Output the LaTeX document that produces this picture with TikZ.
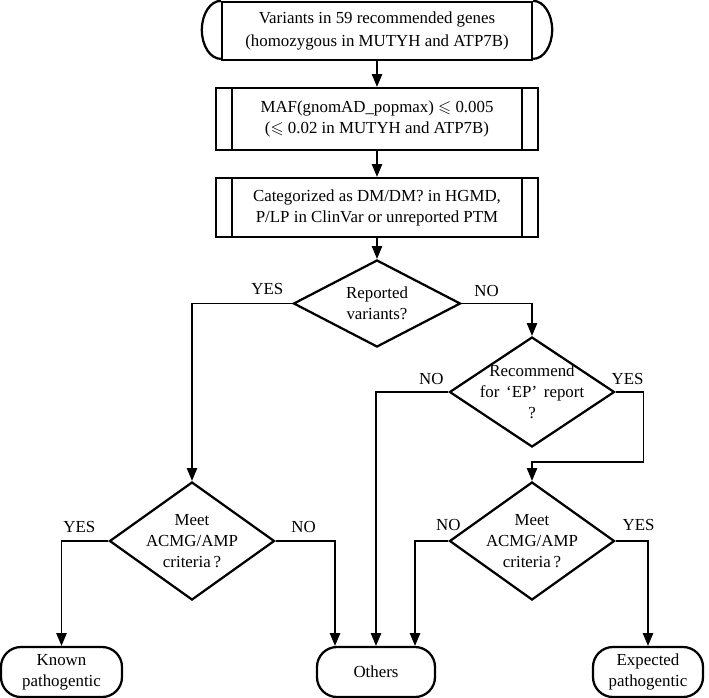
\documentclass[tikz,border=0pt]{standalone}
\usepackage{amsmath,amssymb}
\usepackage{fontspec}
\setmainfont{Liberation Serif}
\usetikzlibrary{arrows.meta}
\usetikzlibrary{calc}
\usetikzlibrary{shapes.geometric}

\begin{document}
\begin{tikzpicture}[x=0.025cm,y=-0.025cm,line width=0.9pt,
    font=\fontsize{12}{15}\selectfont,
    >={Triangle[length=0.32cm,width=0.26cm]},
    box/.style={draw,line width=1.6pt,inner sep=0pt,align=center},
    dec/.style={draw,diamond,line width=1.6pt,inner sep=0pt},
    term/.style={draw,line width=1.6pt,rounded corners=0.5cm,minimum height=1.25cm,align=center,inner sep=0pt},
    txt/.style={align=center,inner sep=0pt},
    lbl/.style={inner sep=0pt}]
      \useasboundingbox (0,0) rectangle (709,697);

      \node[box,minimum width=7.75cm,minimum height=1.45cm,font=\fontsize{12}{17}\selectfont] (start) at (377,31) {Variants in 59 recommended genes\\(homozygous in MUTYH and ATP7B)};
      \draw[line width=1.6pt] (start.north west) arc[start angle=90,end angle=270,x radius=0.475cm,y radius=0.725cm];
      \draw[line width=1.6pt] (start.north east) arc[start angle=90,end angle=-90,x radius=0.475cm,y radius=0.725cm];

      \node[box,minimum width=8.05cm,minimum height=1.55cm,font=\fontsize{12}{15.5}\selectfont] (maf) at (377,119) {MAF(gnomAD\_popmax) $\leqslant$ 0.005\\($\leqslant$ 0.02 in MUTYH and ATP7B)};
      \node[box,minimum width=8.05cm,minimum height=1.475cm] (cat) at (377,207.5) {Categorized as DM/DM? in HGMD,\\P/LP in ClinVar or unreported PTM};
      \foreach \n in {maf,cat}{
        \draw[line width=1.6pt] ($(\n.north west)+(17,0)$) -- ($(\n.south west)+(17,0)$);
        \draw[line width=1.6pt] ($(\n.north east)+(-17,0)$) -- ($(\n.south east)+(-17,0)$);
      }

      \node[dec,minimum width=4.175cm,minimum height=2.175cm] (d1) at (377,303.5) {};
      \node[txt] (t1) at (d1) {Reported\\variants?};
      \node[dec,minimum width=4.125cm,minimum height=2.75cm] (d2) at (532,392) {};
      \node[txt] (t2) at (d2) {Recommend\\for\hspace{0.4em}‘EP’\hspace{0.4em}report\\?};
      \node[dec,minimum width=4.125cm,minimum height=2.95cm] (d3) at (192,541) {};
      \node[txt] (t3) at (d3) {Meet\\ACMG/AMP\\criteria\,?};
      \node[dec,minimum width=4.125cm,minimum height=2.95cm] (d4) at (532,541) {};
      \node[txt] (t4) at (d4) {Meet\\ACMG/AMP\\criteria\,?};

      \node[term,minimum width=3.025cm] (known) at (61.5,672) {Known\\pathogentic};
      \node[term,minimum width=2.95cm] (others) at (376,672) {Others};
      \node[term,minimum width=2.75cm] (expected) at (648,672) {Expected\\pathogentic};

      \draw[->] (start.south) -- (maf.north);
      \draw[->] (maf.south) -- (cat.north);
      \draw[->] (cat.south) -- (d1.north);
      \draw[->] (d1.west) -| (d3.north);
      \draw[->] (d1.east) -| (d2.north);
      \draw[->] (d2.west) -| (others.north);
      \draw[->] (d2.east) -- ++(28,0) |- ($(d4.north)+(0,-19)$) -- (d4.north);
      \draw[->] (d3.west) -| (known.north);
      \draw[->] (d3.east) -| ($(others.north)+(-41,0)$);
      \draw[->] (d4.west) -| ($(others.north)+(39,0)$);
      \draw[->] (d4.east) -| (expected.north);

      \node[lbl] (y1) at ($(d1.west)+(-25,-14.5)$) {YES};
      \node[lbl] (n1) at ($(d1.east)+(25,-12.5)$) {NO};
      \node[lbl] (n2) at ($(d2.west)+(-17,-13)$) {NO};
      \node[lbl] (y2) at ($(d2.east)+(12,-13)$) {YES};
      \node[lbl] (y3) at ($(d3.west)+(-29,-14)$) {YES};
      \node[lbl] (n3) at ($(d3.east)+(28,-14)$) {NO};
      \node[lbl] (n4) at ($(d4.west)+(0,-16)$) {NO};
      \node[lbl] (y4) at ($(d4.east)+(23,-16)$) {YES};
    \end{tikzpicture}
\end{document}
